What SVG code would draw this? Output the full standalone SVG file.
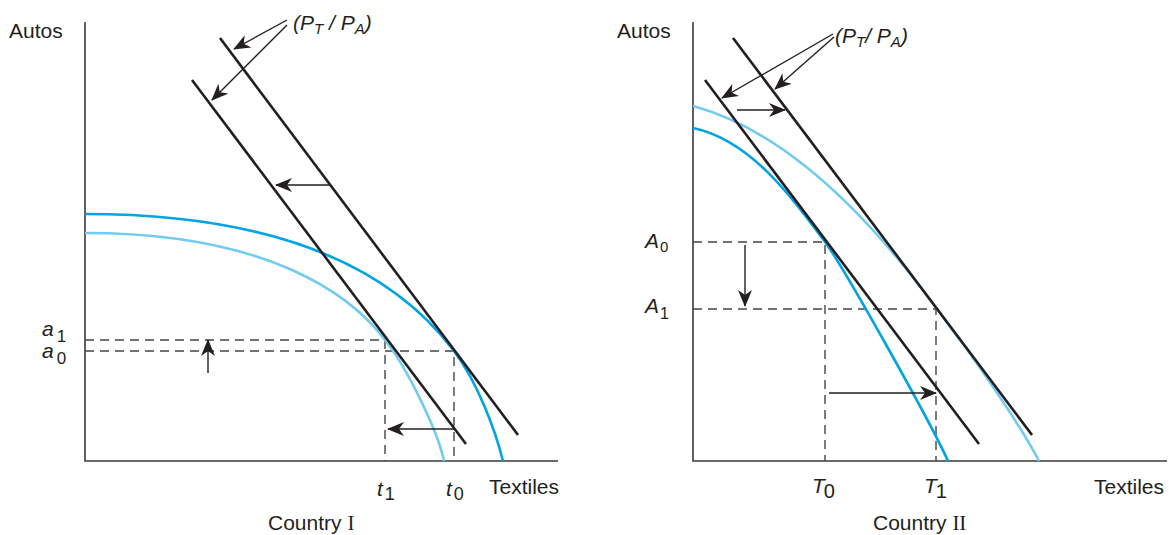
<svg xmlns="http://www.w3.org/2000/svg" width="1169" height="535" viewBox="0 0 1169 535">
<style>
  .axis{stroke:#3a3a3a;stroke-width:1.6;fill:none}
  .dash{stroke:#444;stroke-width:1.4;stroke-dasharray:9 6;fill:none}
  .price{stroke:#231f20;stroke-width:2.6;fill:none;stroke-linecap:butt}
  .ppfD{stroke:#00a3e4;stroke-width:2.6;fill:none}
  .ppfL{stroke:#72cbf0;stroke-width:2.6;fill:none}
  .arr{stroke:#231f20;stroke-width:1.4;fill:none;marker-end:url(#ah)}
  .lbl{font-family:"Liberation Sans",Arial,sans-serif;font-size:21px;fill:#231f20}
  .it{font-style:italic}
  .up{font-style:normal}
  .rom{font-family:"Liberation Serif","Times New Roman",serif}
</style>
<defs>
  <marker id="ah" viewBox="0 0 17 14" refX="16" refY="7" markerWidth="17" markerHeight="14" markerUnits="userSpaceOnUse" orient="auto">
    <path d="M0,0 L17,7 L0,14 L5,7 z" fill="#231f20"/>
  </marker>
</defs>
<rect width="1169" height="535" fill="#fff"/>

<!-- Country I -->
<g id="axes-1">
  <path class="axis" d="M85,22 V461 H558"/>
</g>
<g id="guides-1">
  <path class="dash" d="M85,340 H385 V461"/>
  <path class="dash" d="M85,351 H454 V461"/>
</g>
<g id="ppf-1">
  <path class="ppfD" d="M85,214 C330,214 418,303 454,351 C478,383 495.5,431 503,461"/>
  <path class="ppfL" d="M85,233 C270,233 352,296 385,340 C408,369 438.4,433 444,461"/>
</g>
<g id="price-1">
  <line class="price" x1="220" y1="38" x2="518" y2="435"/>
  <line class="price" x1="192" y1="80" x2="466" y2="444"/>
</g>
<g id="connectors-1">
  <line class="arr" x1="330" y1="185" x2="276" y2="185"/>
  <line class="arr" x1="208" y1="373" x2="208" y2="340"/>
  <line class="arr" x1="454" y1="429" x2="388" y2="429"/>
  <line class="arr" x1="287" y1="20" x2="234" y2="49"/>
  <line class="arr" x1="287" y1="25" x2="212" y2="100"/>
</g>
<g id="labels-1" class="lbl">
  <text x="9" y="38">Autos</text>
  <text x="489" y="494">Textiles</text>
  <text x="268" y="530">Country <tspan class="rom">I</tspan></text>
  <text x="293" y="30" class="it">(P<tspan font-size="15" dy="4">T</tspan><tspan dy="-4"> / P</tspan><tspan font-size="15" dy="4">A</tspan><tspan dy="-4">)</tspan></text>
  <text x="377" y="496" class="it">t<tspan class="up" font-size="18" dx="2" dy="4">1</tspan></text>
  <text x="446" y="496" class="it">t<tspan class="up" font-size="18" dx="2" dy="4">0</tspan></text>
  <text x="42" y="336" class="it">a<tspan class="up" font-size="17" dx="3" dy="6">1</tspan></text>
  <text x="42" y="358" class="it">a<tspan class="up" font-size="17" dx="3" dy="6">0</tspan></text>
</g>

<!-- Country II -->
<g id="axes-2">
  <path class="axis" d="M693,22 V461 H1167"/>
</g>
<g id="guides-2">
  <path class="dash" d="M693,242 H825 V461"/>
  <path class="dash" d="M693,309 H936 V461"/>
</g>
<g id="ppf-2">
  <path class="ppfL" d="M693,106 C823,141 924,292 960,340 C978,364 1024,431 1039,461"/>
  <path class="ppfD" d="M693,128 C750,140 790,195 825,242 C843,266 930,421 948,461"/>
</g>
<g id="price-2">
  <line class="price" x1="733" y1="38" x2="1032" y2="435"/>
  <line class="price" x1="705" y1="80" x2="979" y2="444"/>
</g>
<g id="connectors-2">
  <line class="arr" x1="737" y1="110" x2="785" y2="110"/>
  <line class="arr" x1="745" y1="245" x2="745" y2="306"/>
  <line class="arr" x1="829" y1="393" x2="936" y2="393"/>
  <line class="arr" x1="833" y1="34" x2="722" y2="98"/>
  <line class="arr" x1="834" y1="37" x2="775" y2="89"/>
</g>
<g id="labels-2" class="lbl">
  <text x="617" y="38">Autos</text>
  <text x="1094" y="494">Textiles</text>
  <text x="873" y="530">Country <tspan class="rom">II</tspan></text>
  <text x="835" y="43" class="it">(P<tspan font-size="15" dy="4">T</tspan><tspan dy="-4">/ P</tspan><tspan font-size="15" dy="4">A</tspan><tspan dy="-4">)</tspan></text>
  <text x="645" y="248" class="it">A<tspan class="up" font-size="15" dx="1" dy="3.5">0</tspan></text>
  <text x="645" y="313" class="it">A<tspan class="up" font-size="16" dx="1" dy="6">1</tspan></text>
  <text x="812" y="493" class="it">T<tspan class="up" font-size="20" dx="-1" dy="5">0</tspan></text>
  <text x="924" y="493" class="it">T<tspan class="up" font-size="20" dx="-1" dy="5">1</tspan></text>
</g>
</svg>
